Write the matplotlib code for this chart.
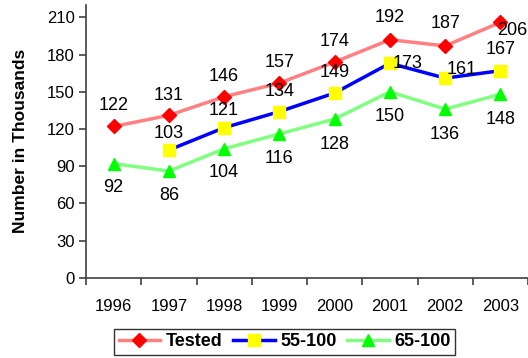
import matplotlib.pyplot as plt
import numpy as np

plt.rcParams['font.family'] = ['Liberation Sans', 'DejaVu Sans']

years = ["1996", "1997", "1998", "1999", "2000", "2001", "2002", "2003"]
tested = [122, 131, 146, 157, 174, 192, 187, 206]
age_55_100 = [np.nan, 103, 121, 134, 149, 173, 161, 167]
age_65_100 = [92, 86, 104, 116, 128, 150, 136, 148]

# label offsets in pixels (dx, dy), dy up
off_tested = [(0, 21), (0, 20), (0, 20), (0, 21), (0, 21), (0, 22), (0, 22), (12, -8)]
off_55 = [None, (0, 17), (0, 17), (0, 20), (0, 21), (18, 0), (17, 9), (0, 21)]
off_65 = [(0, -24), (0, -24), (0, -24), (0, -25), (0, -25), (0, -25), (0, -25), (0, -25)]

fig = plt.figure(figsize=(5.28, 3.58), dpi=100)
ax = fig.add_axes([86 / 528, (358 - 277.7) / 358, 442 / 528, (277.7 - 5) / 358])

x = np.arange(len(years))
ax.plot(x, tested, color="#ff8080", lw=2.5, marker="D", ms=7,
        mfc="red", mec="red", label="Tested", zorder=3)
ax.plot(x, age_55_100, color="blue", lw=2.5, marker="s", ms=8,
        mfc="yellow", mec="yellow", label="55-100", zorder=3)
ax.plot(x, age_65_100, color="#80ff80", lw=2.5, marker="^", ms=8,
        mfc="#00ff00", mec="#00ff00", label="65-100", zorder=3)

px = 0.72
for vals, offs in [(tested, off_tested), (age_55_100, off_55), (age_65_100, off_65)]:
    for i, v in enumerate(vals):
        if offs[i] is None or np.isnan(v):
            continue
        dx, dy = offs[i]
        ax.annotate(str(int(v)), (i, v), xytext=(dx * px, dy * px),
                    textcoords="offset points", ha="center", va="center",
                    fontsize=13, annotation_clip=False, clip_on=False, zorder=4)

ax.set_xlim(-0.5, 7.5)
ax.set_ylim(0, 220)
ax.set_yticks(np.arange(0, 211, 30))
ax.set_xticks(np.arange(-0.5, 8, 1))
ax.set_xticklabels([])
ax.set_xticks(x, minor=True)
ax.set_xticklabels(years, minor=True)
ax.tick_params(axis="x", which="minor", length=0, pad=15, labelsize=12)
ax.tick_params(axis="x", which="major", length=5, width=1.2, color="#404040")
ax.tick_params(axis="y", length=5, width=1.2, color="#404040", labelsize=12, pad=3)

for s in ["top", "right"]:
    ax.spines[s].set_visible(False)
for s in ["left", "bottom"]:
    ax.spines[s].set_color("#404040")
    ax.spines[s].set_linewidth(1.2)

ax.set_ylabel("Number in Thousands", fontsize=12.5, fontweight="bold", labelpad=14)

leg = fig.legend(loc="center", bbox_to_anchor=(284.5 / 528, 1 - 342 / 358), ncol=3,
                 frameon=True, fancybox=False, edgecolor="black",
                 prop={"weight": "bold", "size": 13}, handlelength=2.3,
                 handletextpad=0.3, columnspacing=0.6, borderpad=0.25)
leg.get_frame().set_linewidth(1.0)

fig.savefig("out.png", dpi=100)
